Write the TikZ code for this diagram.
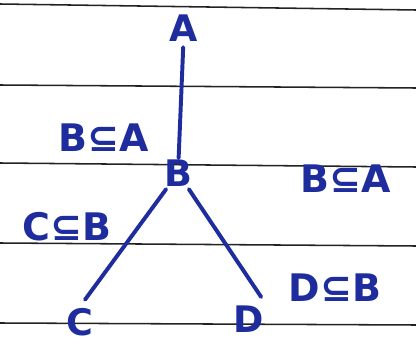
\documentclass[tikz,border=0pt]{standalone}
\usepackage{fontspec}
\setmainfont{DejaVu Sans}
\usepackage{tikz}
\usetikzlibrary{positioning, calc}
\definecolor{inkBlue}{HTML}{1E2C9E}
\definecolor{ruleGray}{HTML}{222222}

\begin{document}
\begin{tikzpicture}[
    x=0.025cm, y=-0.025cm,
    vertex/.style={
        font=\fontsize{26}{28}\selectfont\bfseries,
        text=inkBlue, inner sep=1pt,
    },
    relation/.style={
        font=\fontsize{27}{30}\selectfont\bfseries,
        text=inkBlue, inner sep=0pt,
    },
    edge/.style={
        draw=inkBlue, line width=2.8pt, line cap=round,
    },
    ruling/.style={
        draw=ruleGray, line width=1.1pt,
    },
]

%--- Paper ---
\useasboundingbox (0,0) rectangle (416,342);
\fill[white] (0,0) rectangle (416,342);

%--- Ruled lines ---
\draw[ruling] (0,4) -- (416,10);
\draw[ruling] (0,85) -- (416,88);
\draw[ruling] (0,163) -- (416,167);
\draw[ruling] (0,243) -- (416,246);
\draw[ruling] (0,323) -- (416,325);

%--- Vertices ---
\node[vertex] (A) at (184,28) {A};
\node[vertex] (B) at (178,173) {B};
\node[vertex] (C) at (80,322) {C};
\node[vertex] (D) at (249,319) {D};

%--- Edges ---
\draw[edge, shorten <=3pt, shorten >=0pt] (A) -- (B);
\draw[edge, shorten <=1pt, shorten >=6pt] (B) -- (C.north);
\draw[edge, shorten <=1pt, shorten >=6pt] (B) -- (D.north east);

%--- Relations ---
\node[relation] (ba1) at (104,138) {B⊆A};
\node[relation] (ba2) at (346,179) {B⊆A};
\node[relation] (cb) at (67,227) {C⊆B};
\node[relation] (db) at (335,288) {D⊆B};

\end{tikzpicture}
\end{document}
